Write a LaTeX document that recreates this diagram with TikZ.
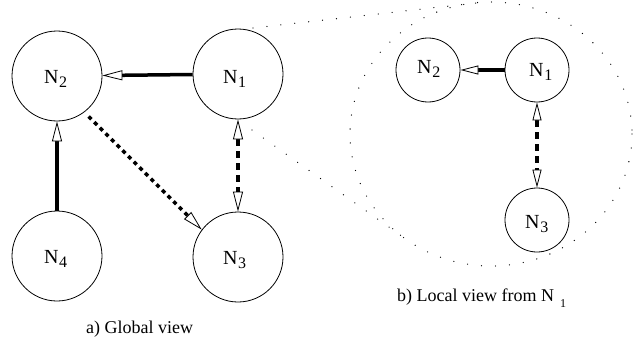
\documentclass[tikz,border=0pt]{standalone}
\usepackage{fontspec}
\setmainfont{Liberation Serif}
\usetikzlibrary{arrows.meta,calc}
\newcommand\Nlab[1]{{\fontsize{20}{20}\selectfont N}\kern0.6pt\raisebox{-4pt}{\fontsize{16}{16}\selectfont #1}}
\tikzset{
  bignode/.style={circle,draw,line width=0.8pt,minimum size=90pt,inner sep=0pt},
  smallnode/.style={circle,draw,line width=0.8pt,minimum size=64pt,inner sep=0pt},
  lbl/.style={anchor=base west,inner sep=0pt},
  captext/.style={anchor=base west,inner sep=0pt,font=\fontsize{18}{18}\selectfont},
  bighead/.style={-{Triangle[length=20pt,width=10pt,line width=0.8pt,fill=white]}},
  bigboth/.style={{Triangle[length=20pt,width=10pt,line width=0.8pt,fill=white]}-{Triangle[length=20pt,width=10pt,line width=0.8pt,fill=white]}},
  smallhead/.style={-{Triangle[length=18pt,width=9pt,line width=0.8pt,fill=white]}},
  smallboth/.style={{Triangle[length=18pt,width=9pt,line width=0.8pt,fill=white]}-{Triangle[length=18pt,width=9pt,line width=0.8pt,fill=white]}},
  solidedge/.style={line width=3.5pt},
  dashedge/.style={line width=3.5pt,dash pattern=on 7pt off 5pt},
  dotdashedge/.style={line width=3.5pt,dash pattern=on 4pt off 4pt},
  zoomline/.style={line width=1.3pt,line cap=round,dash pattern=on 0pt off 14pt},
}
\begin{document}
\begin{tikzpicture}[x=1pt,y=-1pt]
\useasboundingbox (0,0) rectangle (639,345);
% global view
\node[bignode] (g1) at (238,74) {};
\node[bignode] (g2) at (57,76) {};
\node[bignode] (g3) at (238,257) {};
\node[bignode] (g4) at (57,256) {};
\node[lbl] (g1t) at (223,83) {\Nlab{1}};
\node[lbl] (g2t) at (44,83) {\Nlab{2}};
\node[lbl] (g3t) at (223,264) {\Nlab{3}};
\node[lbl] (g4t) at (44,263) {\Nlab{4}};
\draw[solidedge,bighead] (g1) -- (g2);
\draw[solidedge,bighead] (g4) -- (g2);
\draw[dashedge,bigboth] (g1) -- (g3);
\draw[dotdashedge,bighead,shorten <=6pt] (g2.-53) -- (g3.143.6);
% local view
\node[smallnode] (l1) at (537,70) {};
\node[smallnode] (l2) at (428,70) {};
\node[smallnode] (l3) at (537,220) {};
\node[lbl] (l1t) at (529,76) {\Nlab{1}};
\node[lbl] (l2t) at (417,74) {\Nlab{2}};
\node[lbl] (l3t) at (525,228) {\Nlab{3}};
\draw[solidedge,smallhead] (l1) -- (l2);
\draw[dashedge,smallboth] (l1) -- (l3);
% zoom ellipse and lines
\draw[zoomline] (491,134) ellipse [x radius=141, y radius=132];
\coordinate (za) at (253,28);
\coordinate (zb) at (476,3);
\coordinate (zc) at (252,130);
\coordinate (zd) at (410,242);
\draw[zoomline] (za) -- (zb);
\draw[zoomline] (zc) -- (zd);
% captions
\node[captext] (capa) at (86,333) {a) Global view};
\node[captext] (capb) at (397,301) {b) Local view from N\hspace{6pt}\raisebox{-6pt}{\fontsize{12}{12}\selectfont 1}};
\end{tikzpicture}
\end{document}
